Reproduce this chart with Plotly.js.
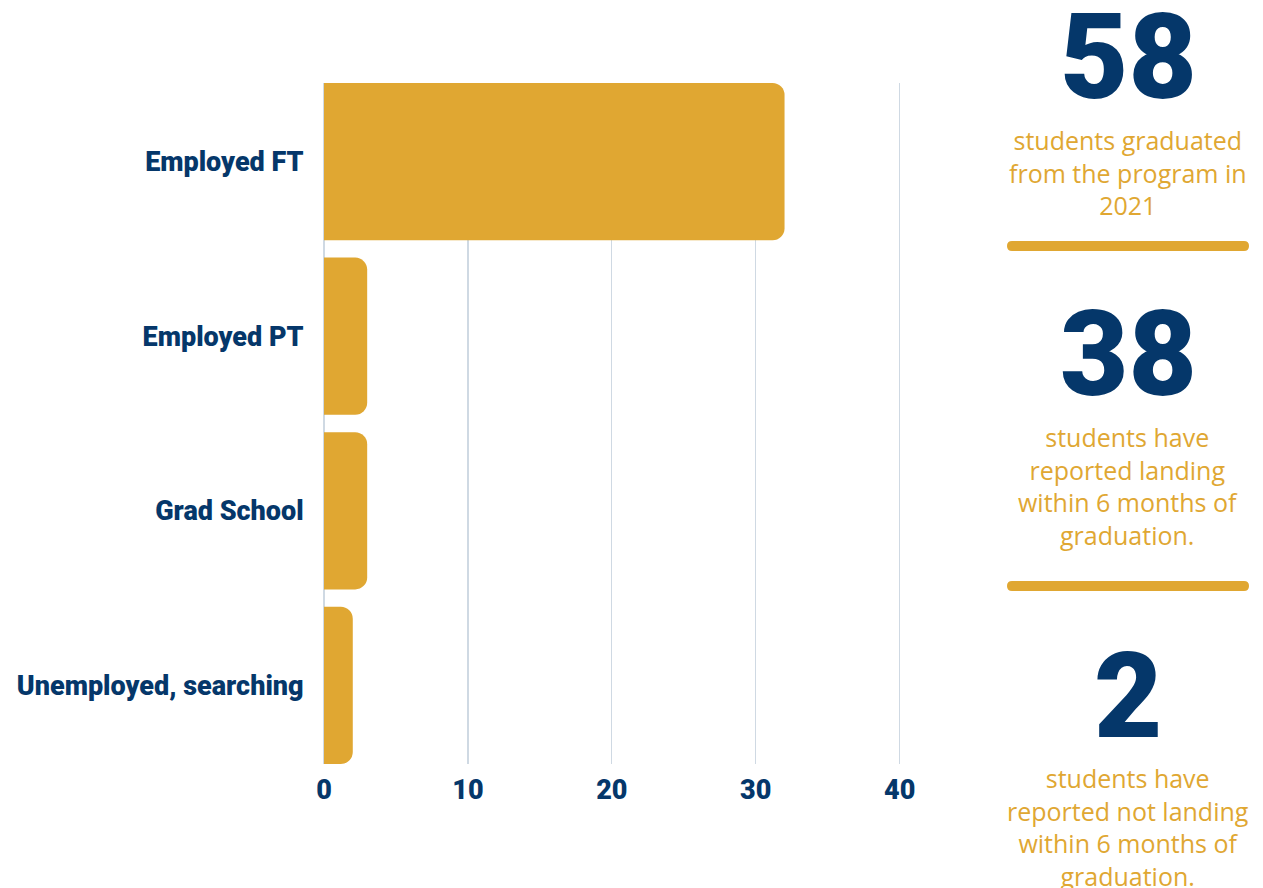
<!DOCTYPE html>
<html>
<head>
<meta charset="utf-8">
<script src="https://cdn.plot.ly/plotly-3.0.1.min.js"></script>
<style>html,body{margin:0;padding:0;background:#fff;}#chart{width:1263px;height:888px;}</style>
</head>
<body>
<div id="chart"></div>
<script>
// ---- data ----
const categories = ["Employed FT", "Employed PT", "Grad School", "Unemployed, searching"];
const counts = [32, 3, 3, 2];
const xTicks = [0, 10, 20, 30, 40];
const statNumbers = ["58", "38", "2"];
const statTexts = [
  "students graduated<br>from the program in<br>2021",
  "students have<br>reported landing<br>within 6 months of<br>graduation.",
  "students have<br>reported not landing<br>within 6 months of<br>graduation."
];

// ---- styling / layout helpers ----
const NAVY = "#05376a";
const GOLD = "#e0a732";
const GRID = "#cfd9e3";
const L = 324, R = 359, T = 83, B = 124, WW = 1263, HH = 888;
const W = WW - L - R, H = HH - T - B;
const px = v => (v - L) / W;
const py = v => (T + H - v) / H;

function roundedBar(x0, x1, yc, h) {
  const r = h / 2;
  const P = (x, y) => px(x).toFixed(5) + "," + py(y).toFixed(5);
  return "M " + P(x0 + r, yc - r) + " L " + P(x1 - r, yc - r) +
    " Q " + P(x1, yc - r) + " " + P(x1, yc) +
    " Q " + P(x1, yc + r) + " " + P(x1 - r, yc + r) +
    " L " + P(x0 + r, yc + r) +
    " Q " + P(x0, yc + r) + " " + P(x0, yc) +
    " Q " + P(x0, yc - r) + " " + P(x0 + r, yc - r) + " Z";
}

const trace = {
  type: "bar",
  orientation: "h",
  y: categories,
  x: counts,
  marker: { color: GOLD, cornerradius: 12 },
  hoverinfo: "x+y"
};

const tickFont = { family: "Roboto", size: 27, color: NAVY, weight: 900 };

const numberY = [58, 355, 697];
const textY = [172, 486, 827];
const annotations = [];
statNumbers.forEach((n, i) => {
  annotations.push({
    xref: "paper", yref: "paper", x: px(1128), y: py(numberY[i]),
    xanchor: "center", yanchor: "middle", showarrow: false,
    text: n,
    font: { family: "Roboto", size: 118, color: NAVY, weight: 900 }
  });
  annotations.push({
    xref: "paper", yref: "paper", x: px(1128), y: py(textY[i]),
    xanchor: "center", yanchor: "middle", showarrow: false, align: "center",
    text: statTexts[i],
    font: { family: "Open Sans", size: 25, color: GOLD }
  });
});

const shapes = [246, 586].map(y => ({
  type: "path", xref: "paper", yref: "paper",
  path: roundedBar(1007, 1249, y, 10),
  fillcolor: GOLD, line: { width: 0 }
}));

const layout = {
  width: WW, height: HH,
  margin: { l: L, r: R, t: T, b: B, pad: 0 },
  paper_bgcolor: "#ffffff", plot_bgcolor: "#ffffff",
  showlegend: false,
  bargap: 0.1,
  xaxis: {
    range: [0, 40.3],
    tickvals: xTicks,
    ticktext: xTicks.map(String),
    showgrid: true, gridcolor: GRID, gridwidth: 1.2,
    zeroline: true, zerolinecolor: GRID, zerolinewidth: 1.2,
    showline: false,
    ticks: "", ticklabelstandoff: 7,
    tickfont: tickFont,
    fixedrange: true
  },
  yaxis: {
    range: [3.45, -0.45],
    showgrid: false, zeroline: false, showline: false,
    ticks: "outside", ticklen: 14, tickcolor: "rgba(0,0,0,0)",
    tickfont: tickFont,
    fixedrange: true
  },
  annotations: annotations,
  shapes: shapes
};

Plotly.newPlot("chart", [trace], layout, { displayModeBar: false, staticPlot: true });
</script>
</body>
</html>
